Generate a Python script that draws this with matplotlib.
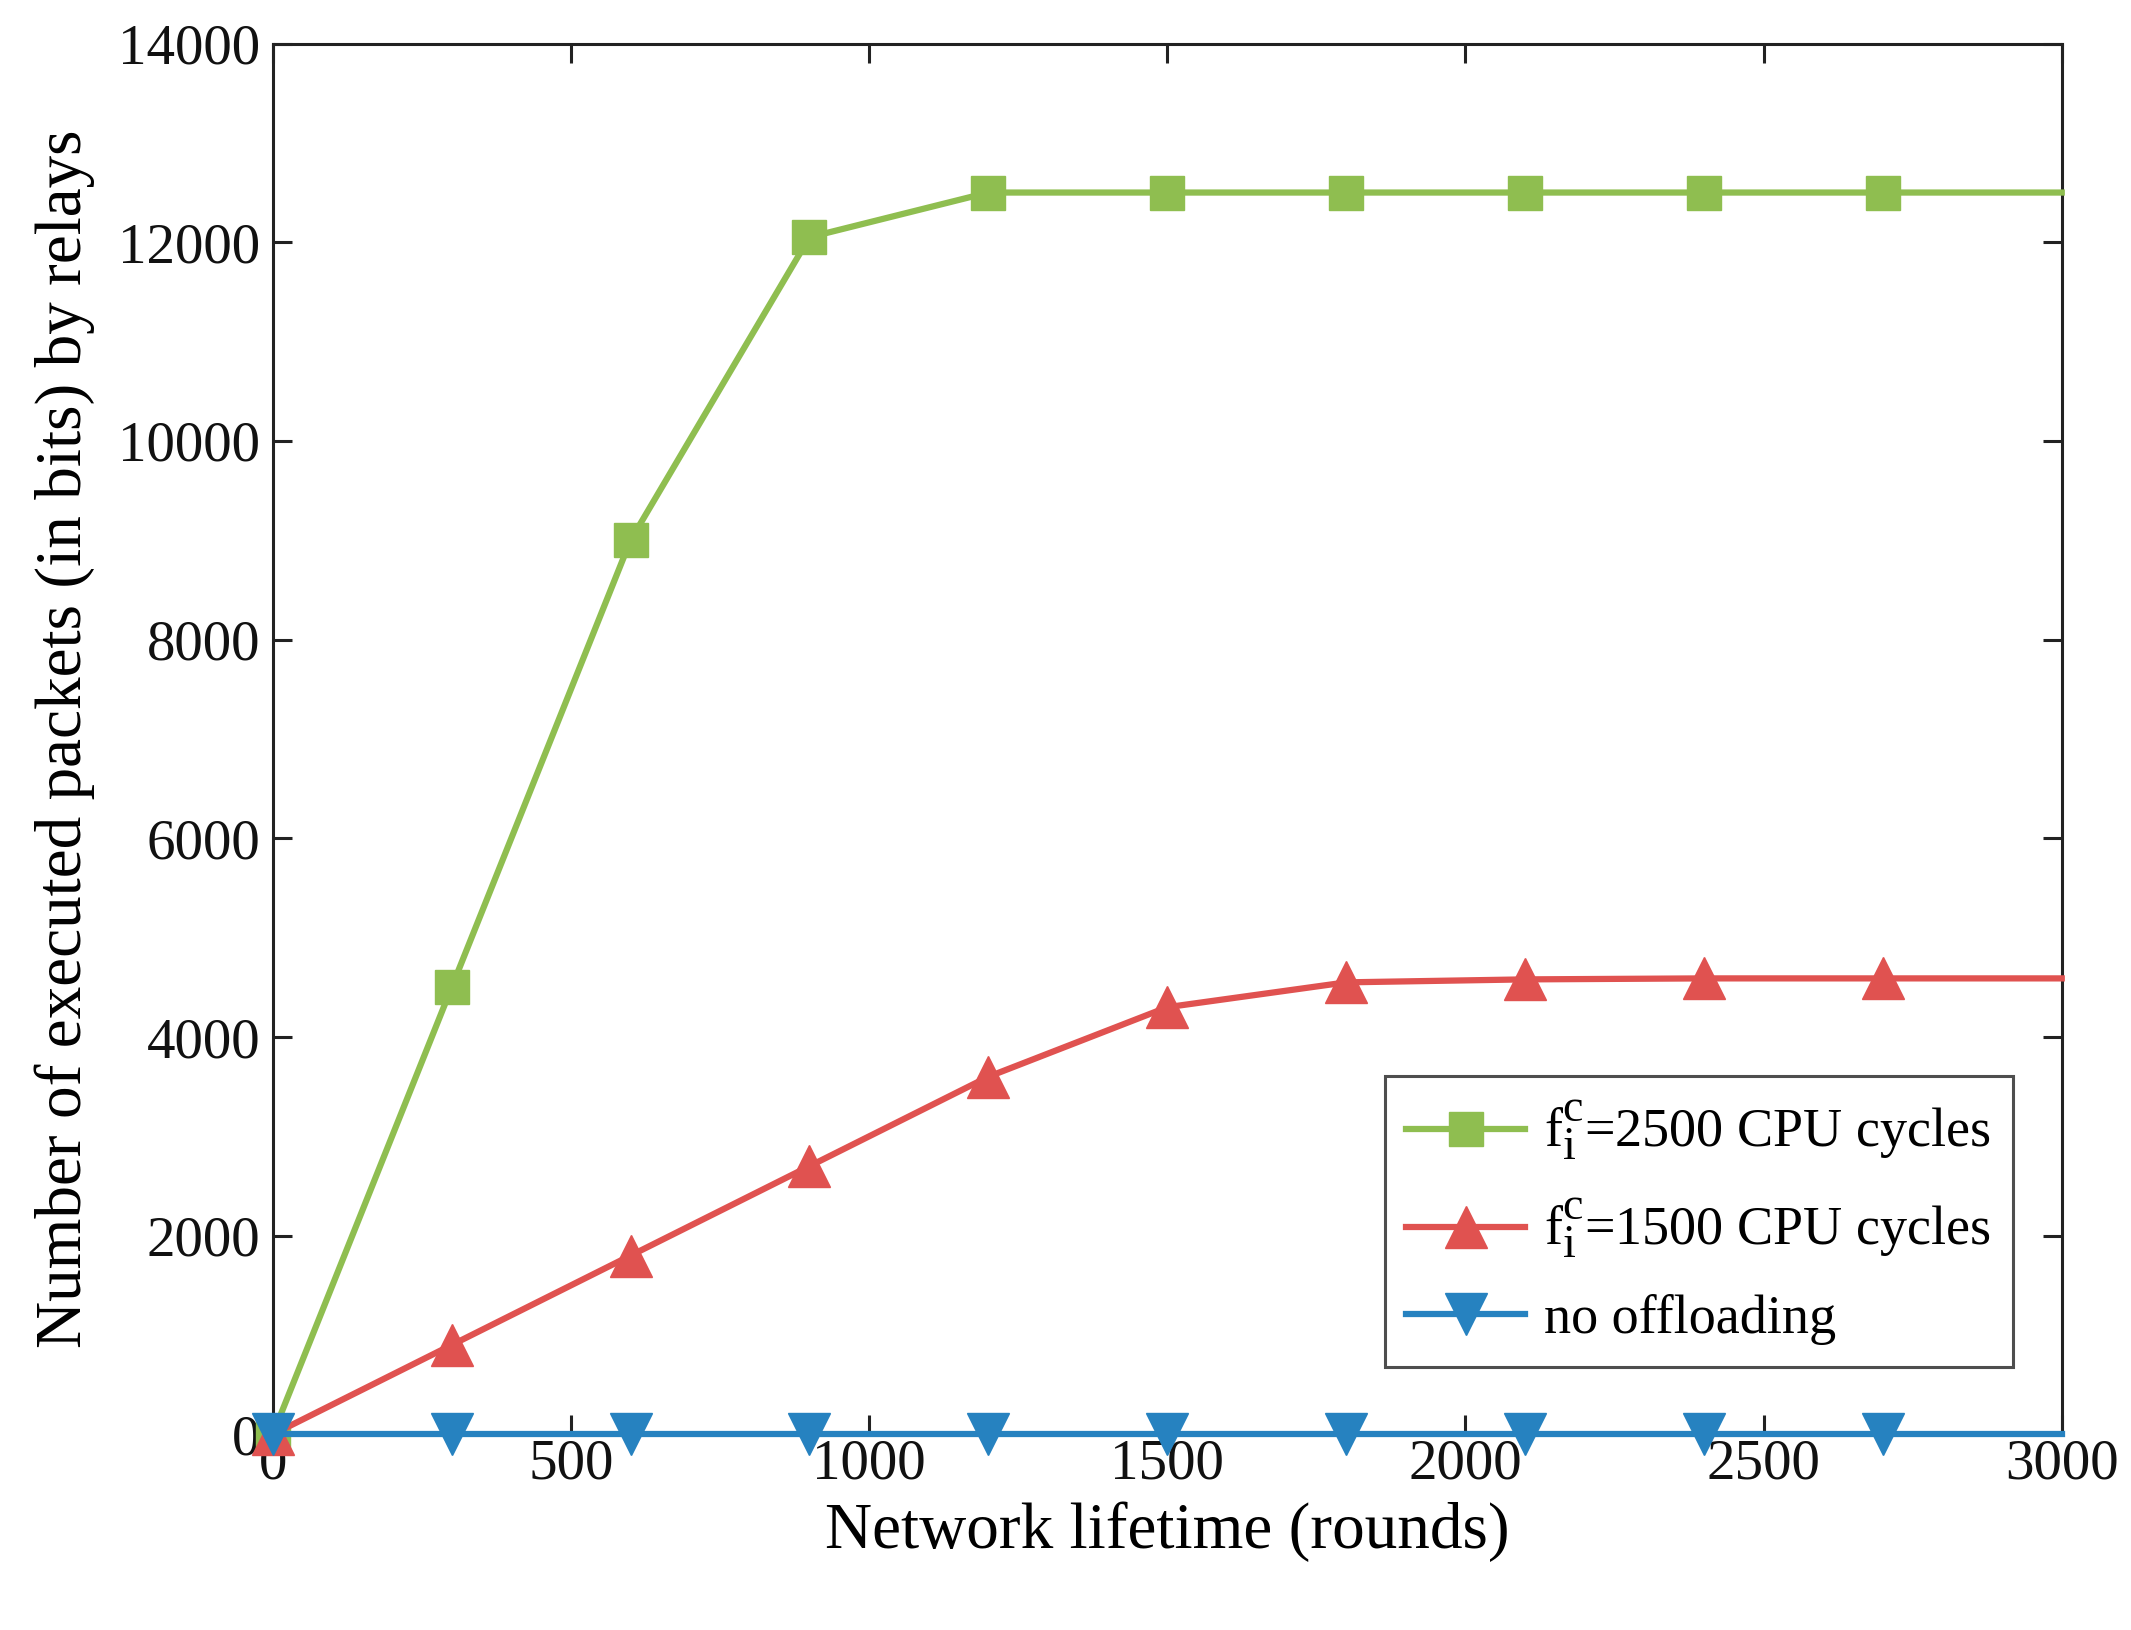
import matplotlib
matplotlib.use("Agg")
import matplotlib.pyplot as plt

try:
    import matplotlib._mathtext as _mt
    _mt.SHRINK_FACTOR = 0.85
except Exception:
    pass

x = [0, 300, 600, 900, 1200, 1500, 1800, 2100, 2400, 2700, 3000]
y_2500 = [0, 4500, 9000, 12050, 12500, 12500, 12500, 12500, 12500, 12500, 12500]
y_1500 = [0, 900, 1800, 2700, 3600, 4300, 4550, 4580, 4590, 4590, 4590]
y_none = [0, 0, 0, 0, 0, 0, 0, 0, 0, 0, 0]
labels = [r"$\mathregular{f_i^c}$=2500 CPU cycles",
          r"$\mathregular{f_i^c}$=1500 CPU cycles",
          "no offloading"]
xticks = [0, 500, 1000, 1500, 2000, 2500, 3000]
yticks = [0, 2000, 4000, 6000, 8000, 10000, 12000, 14000]

plt.rcParams['font.family'] = ['Liberation Serif', 'DejaVu Serif']
plt.rcParams['mathtext.fontset'] = 'custom'
plt.rcParams['mathtext.rm'] = 'Liberation Serif'
plt.rcParams['mathtext.it'] = 'Liberation Serif:italic'

fig = plt.figure(figsize=(21.31, 16.30), dpi=100)
ax = fig.add_axes([0.128, 0.12, 0.8395, 0.8533])

mk = list(range(len(x) - 1))
ax.plot(x, y_2500, color='#8FBE50', lw=4.5, marker='s', ms=24, markevery=mk, label=labels[0],
        clip_on=False, zorder=3)
ax.plot(x, y_1500, color='#E05250', lw=4.5, marker='^', ms=30, markevery=mk, label=labels[1],
        clip_on=False, zorder=3)
ax.plot(x, y_none, color='#2682C0', lw=4.5, marker='v', ms=30, markevery=mk, label=labels[2],
        clip_on=False, zorder=3)

ax.set_xlim(0, 3000)
ax.set_ylim(0, 14000)
ax.set_xticks(xticks)
ax.set_yticks(yticks)
ax.tick_params(direction='in', length=14, width=2.2, labelsize=41, top=True, right=True,
               colors='#222222', labelcolor='#111111')
ax.tick_params(axis='x', pad=3)
ax.tick_params(axis='y', pad=9)
for s in ax.spines.values():
    s.set_linewidth(2.2)
    s.set_color('#222222')
ax.set_xlabel("Network lifetime (rounds)", fontsize=47, labelpad=8)
ax.set_ylabel("Number of executed packets (in bits) by relays", fontsize=47, labelpad=17)

leg = ax.legend(loc='lower right', bbox_to_anchor=(0.9726, 0.0488), fontsize=39,
                frameon=True, fancybox=False, edgecolor='#222222', handlelength=2.2,
                borderpad=0.4, labelspacing=0.62, handletextpad=0.35, borderaxespad=0)
leg.get_frame().set_linewidth(2.2)
leg.set_zorder(5)

fig.savefig("out.png", dpi=100)
